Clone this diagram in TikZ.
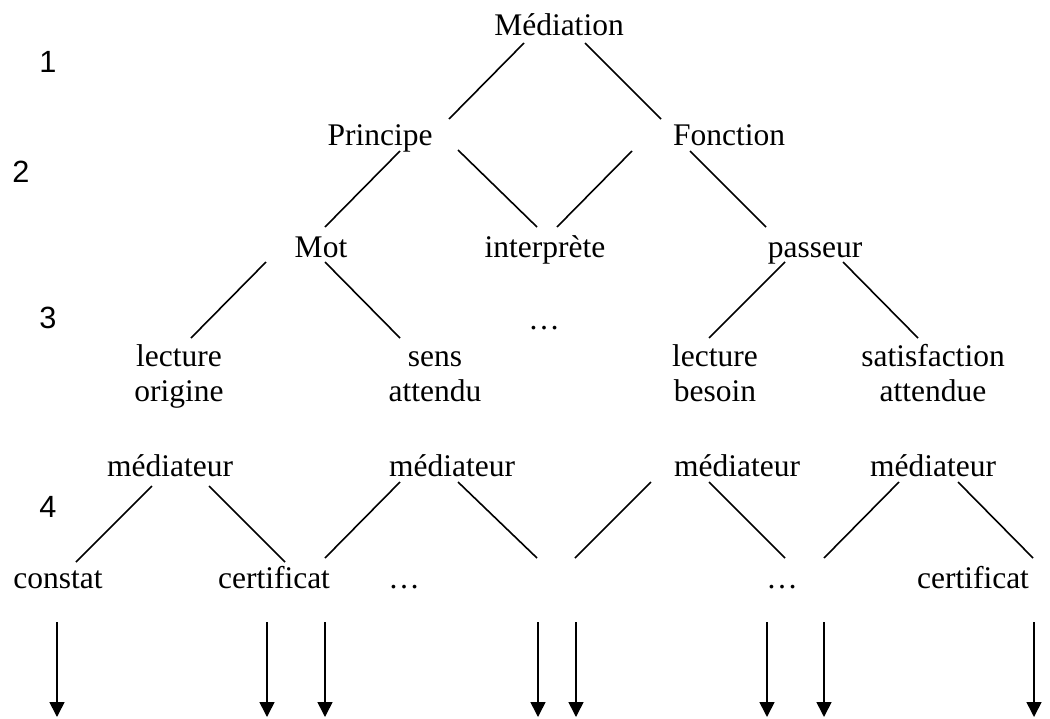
\documentclass[tikz,border=0pt]{standalone}
\usepackage{fontspec}
\setmainfont{Liberation Serif}
\newfontfamily\numfont{Liberation Sans}
\usetikzlibrary{arrows.meta}
\tikzset{
  lbl/.style={inner sep=0pt, anchor=base, font=\fontsize{31.5}{35}\selectfont},
  multi/.style={lbl, align=center},
  lvl/.style={inner sep=0pt, anchor=base, font=\numfont\fontsize{30.7}{35}\selectfont},
  link/.style={line width=1.6pt},
  down/.style={line width=1.6pt, -{Triangle[length=15pt,width=15pt]}}
}
\begin{document}
\begin{tikzpicture}[x=1pt,y=-1pt]
\useasboundingbox[fill=white] (0,0) rectangle (1050,718);
% level numbers
\node[lvl] (n1) at (48,72) {1};
\node[lvl] (n2) at (21,182) {2};
\node[lvl] (n3) at (48,328) {3};
\node[lvl] (n4) at (48,517) {4};
% nodes
\node[lbl] (med) at (559,35) {Médiation};
\node[lbl] (pri) at (380,145) {Principe};
\node[lbl] (fon) at (729,145) {Fonction};
\node[lbl] (mot) at (321,257) {Mot};
\node[lbl] (int) at (545,257) {interprète};
\node[lbl] (pas) at (815,257) {passeur};
\node[lbl] (dots3) at (544,329) {…};
\node[multi] (lo) at (179,401) {lecture\\origine};
\node[multi] (sa) at (435,401) {sens\\attendu};
\node[multi] (lb) at (715,401) {lecture\\besoin};
\node[multi] (sat) at (933,401) {satisfaction\\attendue};
\node[lbl] (m1) at (170,476) {médiateur};
\node[lbl] (m2) at (452,476) {médiateur};
\node[lbl] (m3) at (737,476) {médiateur};
\node[lbl] (m4) at (933,476) {médiateur};
\node[lbl] (con) at (58,588) {constat};
\node[lbl] (cer1) at (274,588) {certificat};
\node[lbl] (d1) at (404,588) {…};
\node[lbl] (d2) at (782,588) {…};
\node[lbl] (cer2) at (973,588) {certificat};
% connector end points
\coordinate (a1) at (524,43);  \coordinate (b1) at (449,119);
\coordinate (a2) at (585,43);  \coordinate (b2) at (661,119);
\coordinate (a3) at (400,151); \coordinate (b3) at (325,227);
\coordinate (a4) at (458,150); \coordinate (b4) at (537,227);
\coordinate (a5) at (632,151); \coordinate (b5) at (557,227);
\coordinate (a6) at (690,151); \coordinate (b6) at (766,227);
\coordinate (a7) at (266,262); \coordinate (b7) at (191,338);
\coordinate (a8) at (325,262); \coordinate (b8) at (400,338);
\coordinate (a9) at (785,262); \coordinate (b9) at (709,338);
\coordinate (a10) at (843,262); \coordinate (b10) at (918,338);
\coordinate (a11) at (152,486); \coordinate (b11) at (76,562);
\coordinate (a12) at (209,486); \coordinate (b12) at (285,562);
\coordinate (a13) at (400,482); \coordinate (b13) at (325,558);
\coordinate (a14) at (458,482); \coordinate (b14) at (537,558);
\coordinate (a15) at (651,482); \coordinate (b15) at (575,558);
\coordinate (a16) at (709,482); \coordinate (b16) at (785,558);
\coordinate (a17) at (899,482); \coordinate (b17) at (824,558);
\coordinate (a18) at (958,482); \coordinate (b18) at (1033,558);
\foreach \i in {1,...,18} {\draw[link] (a\i) -- (b\i);}
% arrows
\foreach \x [count=\k] in {57,267,325,538,576,767,824,1034} {
  \coordinate (s\k) at (\x,622);
  \coordinate (e\k) at (\x,717);
  \draw[down] (s\k) -- (e\k);
}
\end{tikzpicture}
\end{document}
